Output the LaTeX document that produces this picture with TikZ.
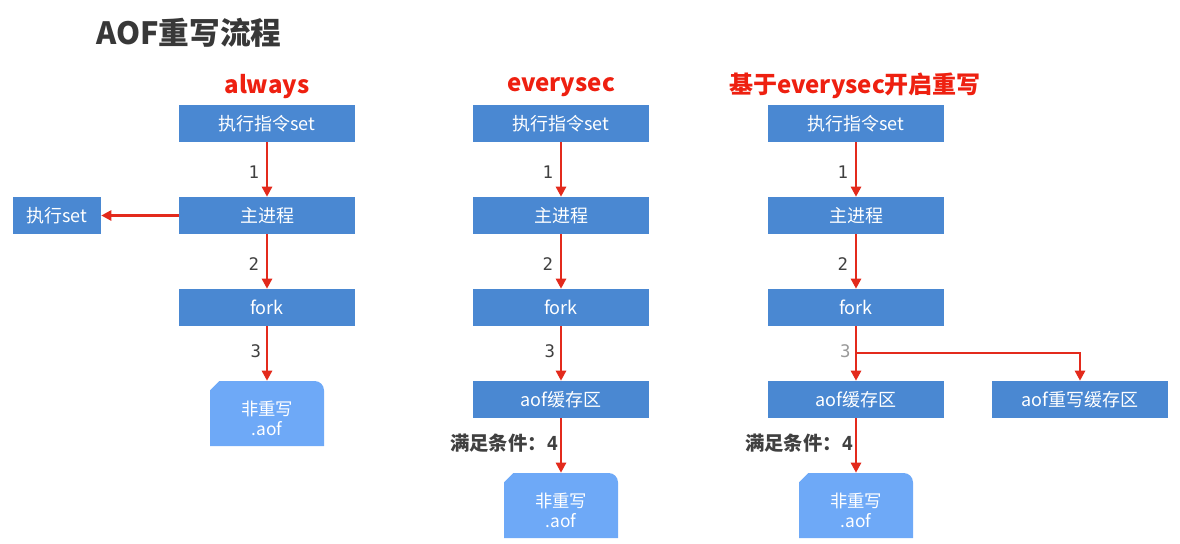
\documentclass[tikz,border=0pt]{standalone}
\usepackage{fontspec}
\setmainfont{Noto Sans CJK SC}
\newfontfamily\digitfont{DejaVu Sans Mono}
\usetikzlibrary{arrows.meta}
\definecolor{boxblue}{HTML}{4A88D2}
\definecolor{fileblue}{HTML}{6EA9F7}
\definecolor{arrred}{HTML}{E32A1C}
\definecolor{titred}{HTML}{EE2010}
\definecolor{titgray}{HTML}{383838}
\definecolor{numgray}{HTML}{404040}
\newcommand{\filetext}[2]{\raisebox{-6pt}[\height][\depth]{\begin{tabular}{@{}c@{}}#1\\#2\end{tabular}}}
\tikzset{
  stepbox/.style={fill=boxblue, text=white, minimum width=132pt, minimum height=27.75pt, inner sep=0pt, font=\fontsize{13.5pt}{16pt}\selectfont},
  smallbox/.style={stepbox, minimum width=66pt},
  filebox/.style={minimum width=85.5pt, minimum height=48.75pt, inner sep=0pt, text=white,
    font=\fontsize{13pt}{15pt}\selectfont,
    path picture={
      \fill[fileblue] (path picture bounding box.south west)
        -- ([yshift=-7pt]path picture bounding box.north west)
        -- ([xshift=7pt]path picture bounding box.north west)
        -- ([xshift=-7pt]path picture bounding box.north east)
        arc[start angle=90, end angle=0, radius=7pt]
        -- (path picture bounding box.south east) -- cycle;
    }},
  coltitle/.style={text=titred, font=\fontsize{18pt}{22pt}\selectfont\bfseries},
  arr/.style={draw=arrred, line width=2pt, -{Triangle[length=7.5pt,width=7.5pt]}},
  numlab/.style={text=numgray, font=\digitfont\fontsize{13pt}{15pt}\selectfont, inner sep=0pt},
  condlab/.style={text=numgray, font=\fontsize{14.5pt}{16pt}\selectfont\bfseries, inner sep=1pt},
}
\begin{document}
\begin{tikzpicture}[x=0.75pt, y=-0.75pt]
\useasboundingbox (0,0) rectangle (1180,543);
% title
\node[text=titgray, font=\fontsize{23pt}{27pt}\selectfont\bfseries, anchor=west, inner sep=0pt] (title) at (96,33) {AOF重写流程};

% column 1: always
\node[coltitle] (t1) at (267,87) {always};
\node[stepbox] (a1) at (267,123.5) {执行指令set};
\node[stepbox] (a2) at (267,215.5) {主进程};
\node[smallbox] (ax) at (57,215.5) {执行set};
\node[stepbox] (a3) at (267,307.5) {fork};
\node[filebox] (af) at (267,413.5) {\filetext{非重写}{.aof}};
\draw[arr] (a1.south) -- node[numlab, pos=0.55, left=5pt] {1} (a2.north);
\draw[arr] (a2.west) -- (ax.east);
\draw[arr] (a2.south) -- node[numlab, pos=0.55, left=5pt] {2} (a3.north);
\draw[arr] (a3.south) -- node[numlab, pos=0.45, left=3.5pt] {3} (af.north);

% column 2: everysec
\node[coltitle] (t2) at (561,87) {everysec};
\node[stepbox] (b1) at (561,123.5) {执行指令set};
\node[stepbox] (b2) at (561,215.5) {主进程};
\node[stepbox] (b3) at (561,307.5) {fork};
\node[stepbox] (b4) at (561,399.5) {aof缓存区};
\node[filebox] (bf) at (561,505.5) {\filetext{非重写}{.aof}};
\draw[arr] (b1.south) -- node[numlab, pos=0.55, left=5pt] {1} (b2.north);
\draw[arr] (b2.south) -- node[numlab, pos=0.55, left=5pt] {2} (b3.north);
\draw[arr] (b3.south) -- node[numlab, pos=0.45, left=3.5pt] {3} (b4.north);
\draw[arr] (b4.south) -- node[condlab, pos=0.45, left=0pt] {满足条件：{\digitfont\bfseries 4}} (bf.north);

% column 3: everysec with rewrite
\node[coltitle] (t3) at (855,86) {基于everysec开启重写};
\node[stepbox] (c1) at (856,123.5) {执行指令set};
\node[stepbox] (c2) at (856,215.5) {主进程};
\node[stepbox] (c3) at (856,307.5) {fork};
\node[stepbox] (c4) at (856,399.5) {aof缓存区};
\node[stepbox] (c5) at (1080,399.5) {aof重写缓存区};
\node[filebox] (cf) at (856,505.5) {\filetext{非重写}{.aof}};
\coordinate (br) at (856,353);
\draw[arr] (c1.south) -- node[numlab, pos=0.55, left=5pt] {1} (c2.north);
\draw[arr] (c2.south) -- node[numlab, pos=0.55, left=5pt] {2} (c3.north);
\draw[arr] (c3.south) -- node[numlab, text=gray!80, pos=0.45, left=3pt] {3} (c4.north);
\draw[arr] (br) -| (c5.north);
\draw[arr] (c4.south) -- node[condlab, pos=0.45, left=0pt] {满足条件：{\digitfont\bfseries 4}} (cf.north);
\end{tikzpicture}
\end{document}
